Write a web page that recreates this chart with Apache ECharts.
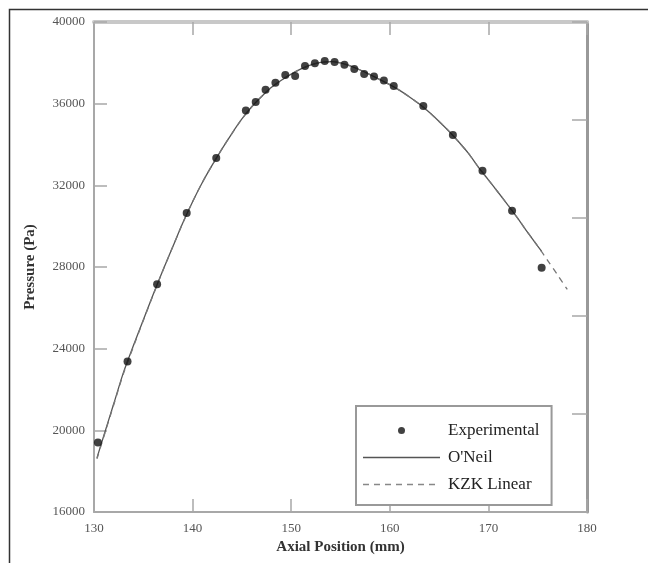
<!DOCTYPE html>
<html>
<head>
<meta charset="utf-8">
<script src="https://cdn.jsdelivr.net/npm/echarts@6/dist/echarts.min.js"></script>
<style>html,body{margin:0;padding:0;background:#fff;}#chart{width:648px;height:563px;}</style>
</head>
<body>
<div id="chart"></div>
<script>
// Experimental measurements [axial position (mm), pressure (Pa)]
var expX = [130.4, 133.4, 136.4, 139.4, 142.4, 145.4, 146.4, 147.4, 148.4, 149.4, 150.4, 151.4, 152.4, 153.4, 154.4, 155.4, 156.4, 157.4, 158.4, 159.4, 160.4, 163.4, 166.4, 169.4, 172.4, 175.4];
var expY = [19400, 23370, 27150, 30650, 33340, 35660, 36080, 36680, 37030, 37400, 37350, 37840, 37980, 38090, 38040, 37910, 37700, 37450, 37330, 37140, 36860, 35890, 34470, 32710, 30750, 27960];
// O'Neil model curve
var oneilX = [130.3, 131, 132, 133, 134, 135, 136, 137, 138, 139, 140, 141, 142, 143, 144, 145, 146, 147, 148, 149, 150, 151, 152, 153, 154, 155, 156, 157, 158, 159, 160, 161, 162, 163, 164, 165, 166, 167, 168, 169, 170, 171, 172, 173, 174, 175, 175.4];
var oneilY = [18650, 19750, 21300, 22850, 24150, 25400, 26650, 27850, 29000, 30150, 31200, 32150, 33000, 33800, 34550, 35250, 35850, 36350, 36800, 37150, 37450, 37700, 37900, 38020, 38060, 38000, 37850, 37650, 37420, 37180, 36930, 36650, 36330, 35980, 35580, 35130, 34650, 34120, 33550, 32880, 32270, 31650, 31020, 30370, 29680, 29020, 28760];
// KZK Linear model curve
var kzkX = [130.3, 131, 132, 133, 134, 135, 136, 137, 138, 139, 140, 141, 142, 143, 144, 145, 146, 147, 148, 149, 150, 151, 152, 153, 154, 155, 156, 157, 158, 159, 160, 161, 162, 163, 164, 165, 166, 167, 168, 169, 170, 171, 172, 173, 174, 175, 176, 177, 178];
var kzkY = [18600, 19700, 21250, 22800, 24100, 25380, 26630, 27840, 29000, 30150, 31200, 32150, 33000, 33800, 34550, 35250, 35850, 36350, 36800, 37150, 37450, 37700, 37900, 38020, 38060, 38000, 37850, 37650, 37420, 37180, 36930, 36650, 36330, 35980, 35580, 35130, 34650, 34120, 33550, 32880, 32270, 31650, 31020, 30370, 29680, 29020, 28330, 27620, 26900];

var xMin = 130, xMax = 180, xStep = 10;
var yMin = 16000, yMax = 40000, yStep = 4000;

function zip(a, b) { return a.map(function (v, i) { return [v, b[i]]; }); }

var serif = 'Liberation Serif';
var axisCol = '#a8a8a8';

// legend icon paths (bounding box 77x14)
var dotIcon = 'path://M0 0M77 14M35 7a3.5 3.5 0 1 0 7 0a3.5 3.5 0 1 0 -7 0Z';
var solidIcon = 'path://M0 0M77 14M0 6.3h77v1.4h-77Z';
var dashIcon = 'path://M0 0M77 14M0 6.3h6v1.4h-6ZM11 6.3h6v1.4h-6ZM22 6.3h6v1.4h-6ZM33 6.3h6v1.4h-6ZM44 6.3h6v1.4h-6ZM55 6.3h6v1.4h-6ZM66 6.3h6v1.4h-6Z';

var chart = echarts.init(document.getElementById('chart'));
chart.setOption({
  backgroundColor: '#fff',
  animation: false,
  graphic: [{
    type: 'rect', left: 7, top: 7, silent: true,
    shape: { width: 700, height: 600 },
    style: { fill: 'none', stroke: '#333', lineWidth: 1.5 }
  }],
  grid: { left: 94, right: 61, top: 22, bottom: 51, containLabel: false },
  legend: {
    orient: 'vertical', left: 356, top: 406,
    padding: [16, 12, 12, 7],
    itemWidth: 77, itemHeight: 14, itemGap: 10,
    backgroundColor: '#fff', borderColor: '#999', borderWidth: 2, borderRadius: 0,
    textStyle: { fontFamily: serif, fontSize: 17, color: '#222', padding: [0, 0, 0, 3] },
    data: [
      { name: 'Experimental', icon: dotIcon, itemStyle: { color: '#111' } },
      { name: "O'Neil", icon: solidIcon, itemStyle: { color: '#555' } },
      { name: 'KZK Linear', icon: dashIcon, itemStyle: { color: '#888' } }
    ]
  },
  xAxis: [{
    type: 'value', min: xMin, max: xMax, interval: xStep, position: 'bottom',
    name: 'Axial Position (mm)', nameLocation: 'middle', nameGap: 28,
    nameTextStyle: { fontFamily: serif, fontSize: 15, fontWeight: 'bold', color: '#333' },
    axisLine: { show: true, lineStyle: { color: axisCol, width: 2 } },
    axisTick: { show: true, inside: true, length: 13, lineStyle: { color: axisCol, width: 1.5 } },
    axisLabel: { fontFamily: serif, fontSize: 13, color: '#555', margin: 10, formatter: function (v) { return String(v); } },
    splitLine: { show: false }
  }, {
    type: 'value', min: xMin, max: xMax, interval: xStep, position: 'top',
    axisLine: { show: true, lineStyle: { color: '#c8c8c8', width: 4 } },
    axisTick: { show: true, inside: true, length: 13, lineStyle: { color: axisCol, width: 1.5 } },
    axisLabel: { show: false },
    splitLine: { show: false }
  }],
  yAxis: [{
    type: 'value', min: yMin, max: yMax, interval: yStep, position: 'left',
    name: 'Pressure (Pa)', nameLocation: 'middle', nameGap: 56,
    nameTextStyle: { fontFamily: serif, fontSize: 15, fontWeight: 'bold', color: '#333' },
    axisLine: { show: true, lineStyle: { color: axisCol, width: 2 } },
    axisTick: { show: true, inside: true, length: 13, lineStyle: { color: axisCol, width: 1.5 } },
    axisLabel: { fontFamily: serif, fontSize: 13, color: '#555', margin: 9, formatter: function (v) { return String(v); } },
    splitLine: { show: false }
  }, {
    type: 'value', min: 0, max: 5, interval: 1, position: 'right',
    axisLine: { show: true, lineStyle: { color: '#999', width: 3 } },
    axisTick: { show: true, inside: true, length: 15, lineStyle: { color: axisCol, width: 1.5 } },
    axisLabel: { show: false },
    splitLine: { show: false }
  }],
  series: [{
    name: "O'Neil", type: 'line', data: zip(oneilX, oneilY),
    xAxisIndex: 0, yAxisIndex: 0, symbol: 'none', smooth: 0.3,
    lineStyle: { color: '#555', width: 1.3, type: 'solid' }, itemStyle: { color: '#555' }, z: 2
  }, {
    name: 'KZK Linear', type: 'line', data: zip(kzkX, kzkY),
    xAxisIndex: 0, yAxisIndex: 0, symbol: 'none', smooth: 0.3,
    lineStyle: { color: '#777', width: 1.3, type: [6, 5] }, itemStyle: { color: '#777' }, z: 2
  }, {
    name: 'Experimental', type: 'scatter', data: zip(expX, expY),
    xAxisIndex: 0, yAxisIndex: 0, symbol: 'circle', symbolSize: 8,
    itemStyle: { color: '#111' }, z: 3
  }]
});
</script>
</body>
</html>
